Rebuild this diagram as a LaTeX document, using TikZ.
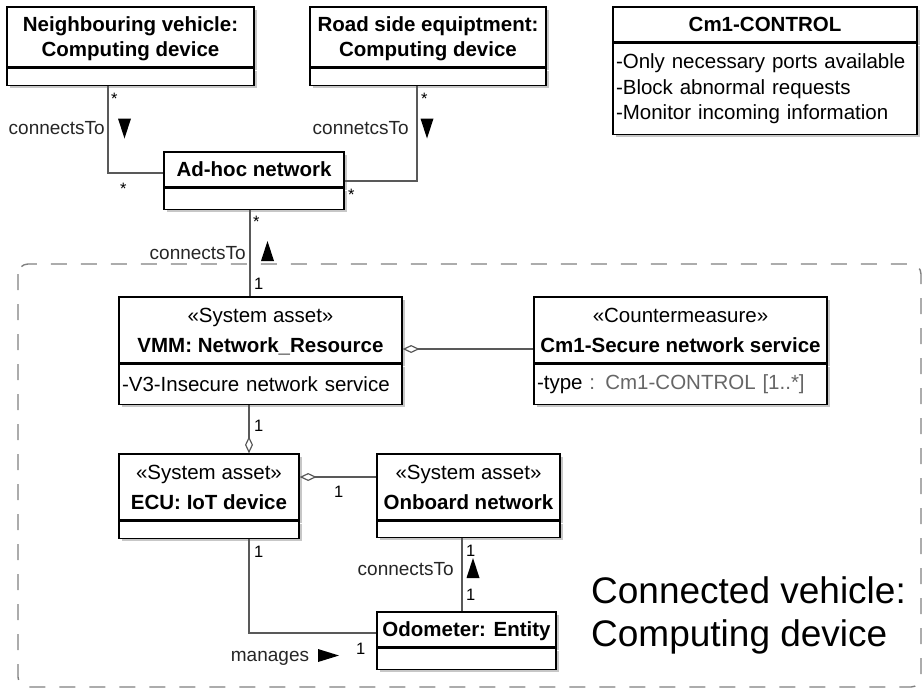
\documentclass[tikz,border=0pt]{standalone}
\usepackage{fontspec}
\setmainfont{Liberation Sans}
\usetikzlibrary{arrows.meta,shadows}

\begin{document}
\begin{tikzpicture}[x=1pt,y=-1pt,
  head/.style={draw,line width=1.3pt,fill=white,align=center,inner sep=0pt,text depth=0pt,font=\fontsize{20.5}{25}\selectfont,drop shadow={shadow xshift=3pt,shadow yshift=-3pt,fill=black!22,opacity=1}},
  body/.style={draw,line width=1.3pt,fill=white,align=left,inner sep=0pt,anchor=north,font=\fontsize{20.5}{25.5}\selectfont,drop shadow={shadow xshift=3pt,shadow yshift=-3pt,fill=black!22,opacity=1}},
  conn/.style={draw=black!65,line width=1.2pt},
  agg/.style={arrows={Diamond[length=17pt,width=8pt,fill=white]-}},
  mult/.style={font=\fontsize{16.5}{18}\selectfont,inner sep=0pt},
  assoc/.style={font=\fontsize{19}{22}\selectfont,inner sep=0pt,text=black!85},
  frame/.style={draw=black!50,line width=1.4pt,dash pattern=on 16pt off 14pt,rounded corners=10pt},
  tridown/.pic={\fill (-6.5,-10) -- (6.5,-10) -- (0,10) -- cycle;},
  triup/.pic={\fill (-6.5,10) -- (6.5,10) -- (0,-10) -- cycle;},
  triright/.pic={\fill (-10.5,-6.5) -- (-10.5,6.5) -- (10.5,0) -- cycle;}]
\useasboundingbox (0,0) rectangle (923,689);
\draw[frame] (18,264) rectangle (921,687);
\node[head,minimum width=247pt,minimum height=60pt] (nv) at (130.5,37) {\textbf{Neighbouring vehicle:}\\\textbf{Computing device}};
\node[body,minimum width=247pt,minimum height=17pt] (nvb) at (nv.south) {};
\node[head,minimum width=236pt,minimum height=60pt] (rse) at (428,37) {\textbf{Road side equiptment:}\\\textbf{Computing device}};
\node[body,minimum width=236pt,minimum height=17pt] (rseb) at (rse.south) {};
\node[head,minimum width=180pt,minimum height=35pt] (adhoc) at (254,169.5) {\textbf{Ad-hoc network}};
\node[body,minimum width=180pt,minimum height=21pt] (adhocb) at (adhoc.south) {};
\node[head,minimum width=304pt,minimum height=35pt] (ctrl) at (765,24.5) {\textbf{Cm1-CONTROL}};
\node[body,minimum width=304pt,minimum height=91pt,text width=298pt] (ctrlb) at (ctrl.south) {-Only necessary ports available\\-Block abnormal requests\\-Monitor incoming information};
\node[head,minimum width=283pt,minimum height=66pt] (vmm) at (260.5,330) {«System asset»\\[5pt]\textbf{VMM: Network\_Resource}};
\node[body,minimum width=283pt,minimum height=40pt,text width=277pt] (vmmb) at (vmm.south) {-V3-Insecure network service};
\node[head,minimum width=293pt,minimum height=66pt] (cm) at (680.5,330) {«Countermeasure»\\[5pt]\textbf{Cm1-Secure network service}};
\node[body,minimum width=293pt,minimum height=40pt,text width=287pt] (cmb) at (cm.south) {-type \textcolor{black!60}{: Cm1-CONTROL [1..*]}};
\node[head,minimum width=180pt,minimum height=66pt] (ecu) at (209,487) {«System asset»\\[5pt]\textbf{ECU: IoT device}};
\node[body,minimum width=180pt,minimum height=17pt] (ecub) at (ecu.south) {};
\node[head,minimum width=183pt,minimum height=66pt] (onb) at (468.5,487) {«System asset»\\[5pt]\textbf{Onboard network}};
\node[body,minimum width=183pt,minimum height=16pt] (onbb) at (onb.south) {};
\node[head,minimum width=179pt,minimum height=35pt] (odo) at (466.5,629.5) {\textbf{Odometer: Entity}};
\node[body,minimum width=179pt,minimum height=21pt] (odob) at (odo.south) {};
\coordinate (xnv) at (108,0);
\coordinate (xrse) at (417,0);
\coordinate (xah) at (250,0);
\coordinate (xecu) at (249,0);
\coordinate (xonb) at (462,0);
\coordinate (ynv) at (0,173);
\coordinate (yrse) at (0,181);
\coordinate (yvc) at (0,349);
\coordinate (yeo) at (0,477);
\coordinate (yodo) at (0,633);
\draw[conn] (nvb.south -| xnv) |- (adhoc.west |- ynv);
\draw[conn] (rseb.south -| xrse) |- (adhoc.east |- yrse);
\draw[conn] (adhocb.south -| xah) -- (vmm.north -| xah);
\draw[conn,agg] (vmm.east |- yvc) -- (cm.west |- yvc);
\draw[conn,agg] (ecu.north -| xecu) -- (vmmb.south -| xecu);
\draw[conn,agg] (ecu.east |- yeo) -- (onb.west |- yeo);
\draw[conn] (ecub.south -| xecu) |- (odo.west |- yodo);
\draw[conn] (onbb.south -| xonb) -- (odo.north -| xonb);
\node[mult,anchor=base west] (m1) at (111,104.5) {*};
\node[mult,anchor=base west] (m2) at (120,194.5) {*};
\node[mult,anchor=base west] (m3) at (421,104.5) {*};
\node[mult,anchor=base west] (m4) at (348,200.5) {*};
\node[mult,anchor=base west] (m5) at (253,227.5) {*};
\node[mult,anchor=base west] (m6) at (254,289) {1};
\node[mult,anchor=base west] (m7) at (254,431) {1};
\node[mult,anchor=base west] (m8) at (334,497) {1};
\node[mult,anchor=base west] (m9) at (254,557) {1};
\node[mult,anchor=base west] (m10) at (356,654) {1};
\node[mult,anchor=base west] (m11) at (466,556) {1};
\node[mult,anchor=base west] (m12) at (466,600) {1};
\node[assoc,anchor=east] (l1) at (105,128) {connectsTo};
\node[assoc,anchor=east] (l2) at (409,128) {connetcsTo};
\node[assoc,anchor=east] (l3) at (246,253) {connectsTo};
\node[assoc,anchor=east] (l4) at (454,569) {connectsTo};
\node[assoc,anchor=base] (l5) at (270,661) {manages};
\pic at (124.5,128.5) {tridown};
\pic at (427,128.5) {tridown};
\pic at (267.5,251) {triup};
\pic at (473,568) {triup};
\pic at (328.5,655.5) {triright};
\node[anchor=west,align=left,inner sep=0pt,font=\fontsize{37}{43}\selectfont] (cv) at (591,615) {Connected vehicle:\\Computing device};
\end{tikzpicture}
\end{document}
